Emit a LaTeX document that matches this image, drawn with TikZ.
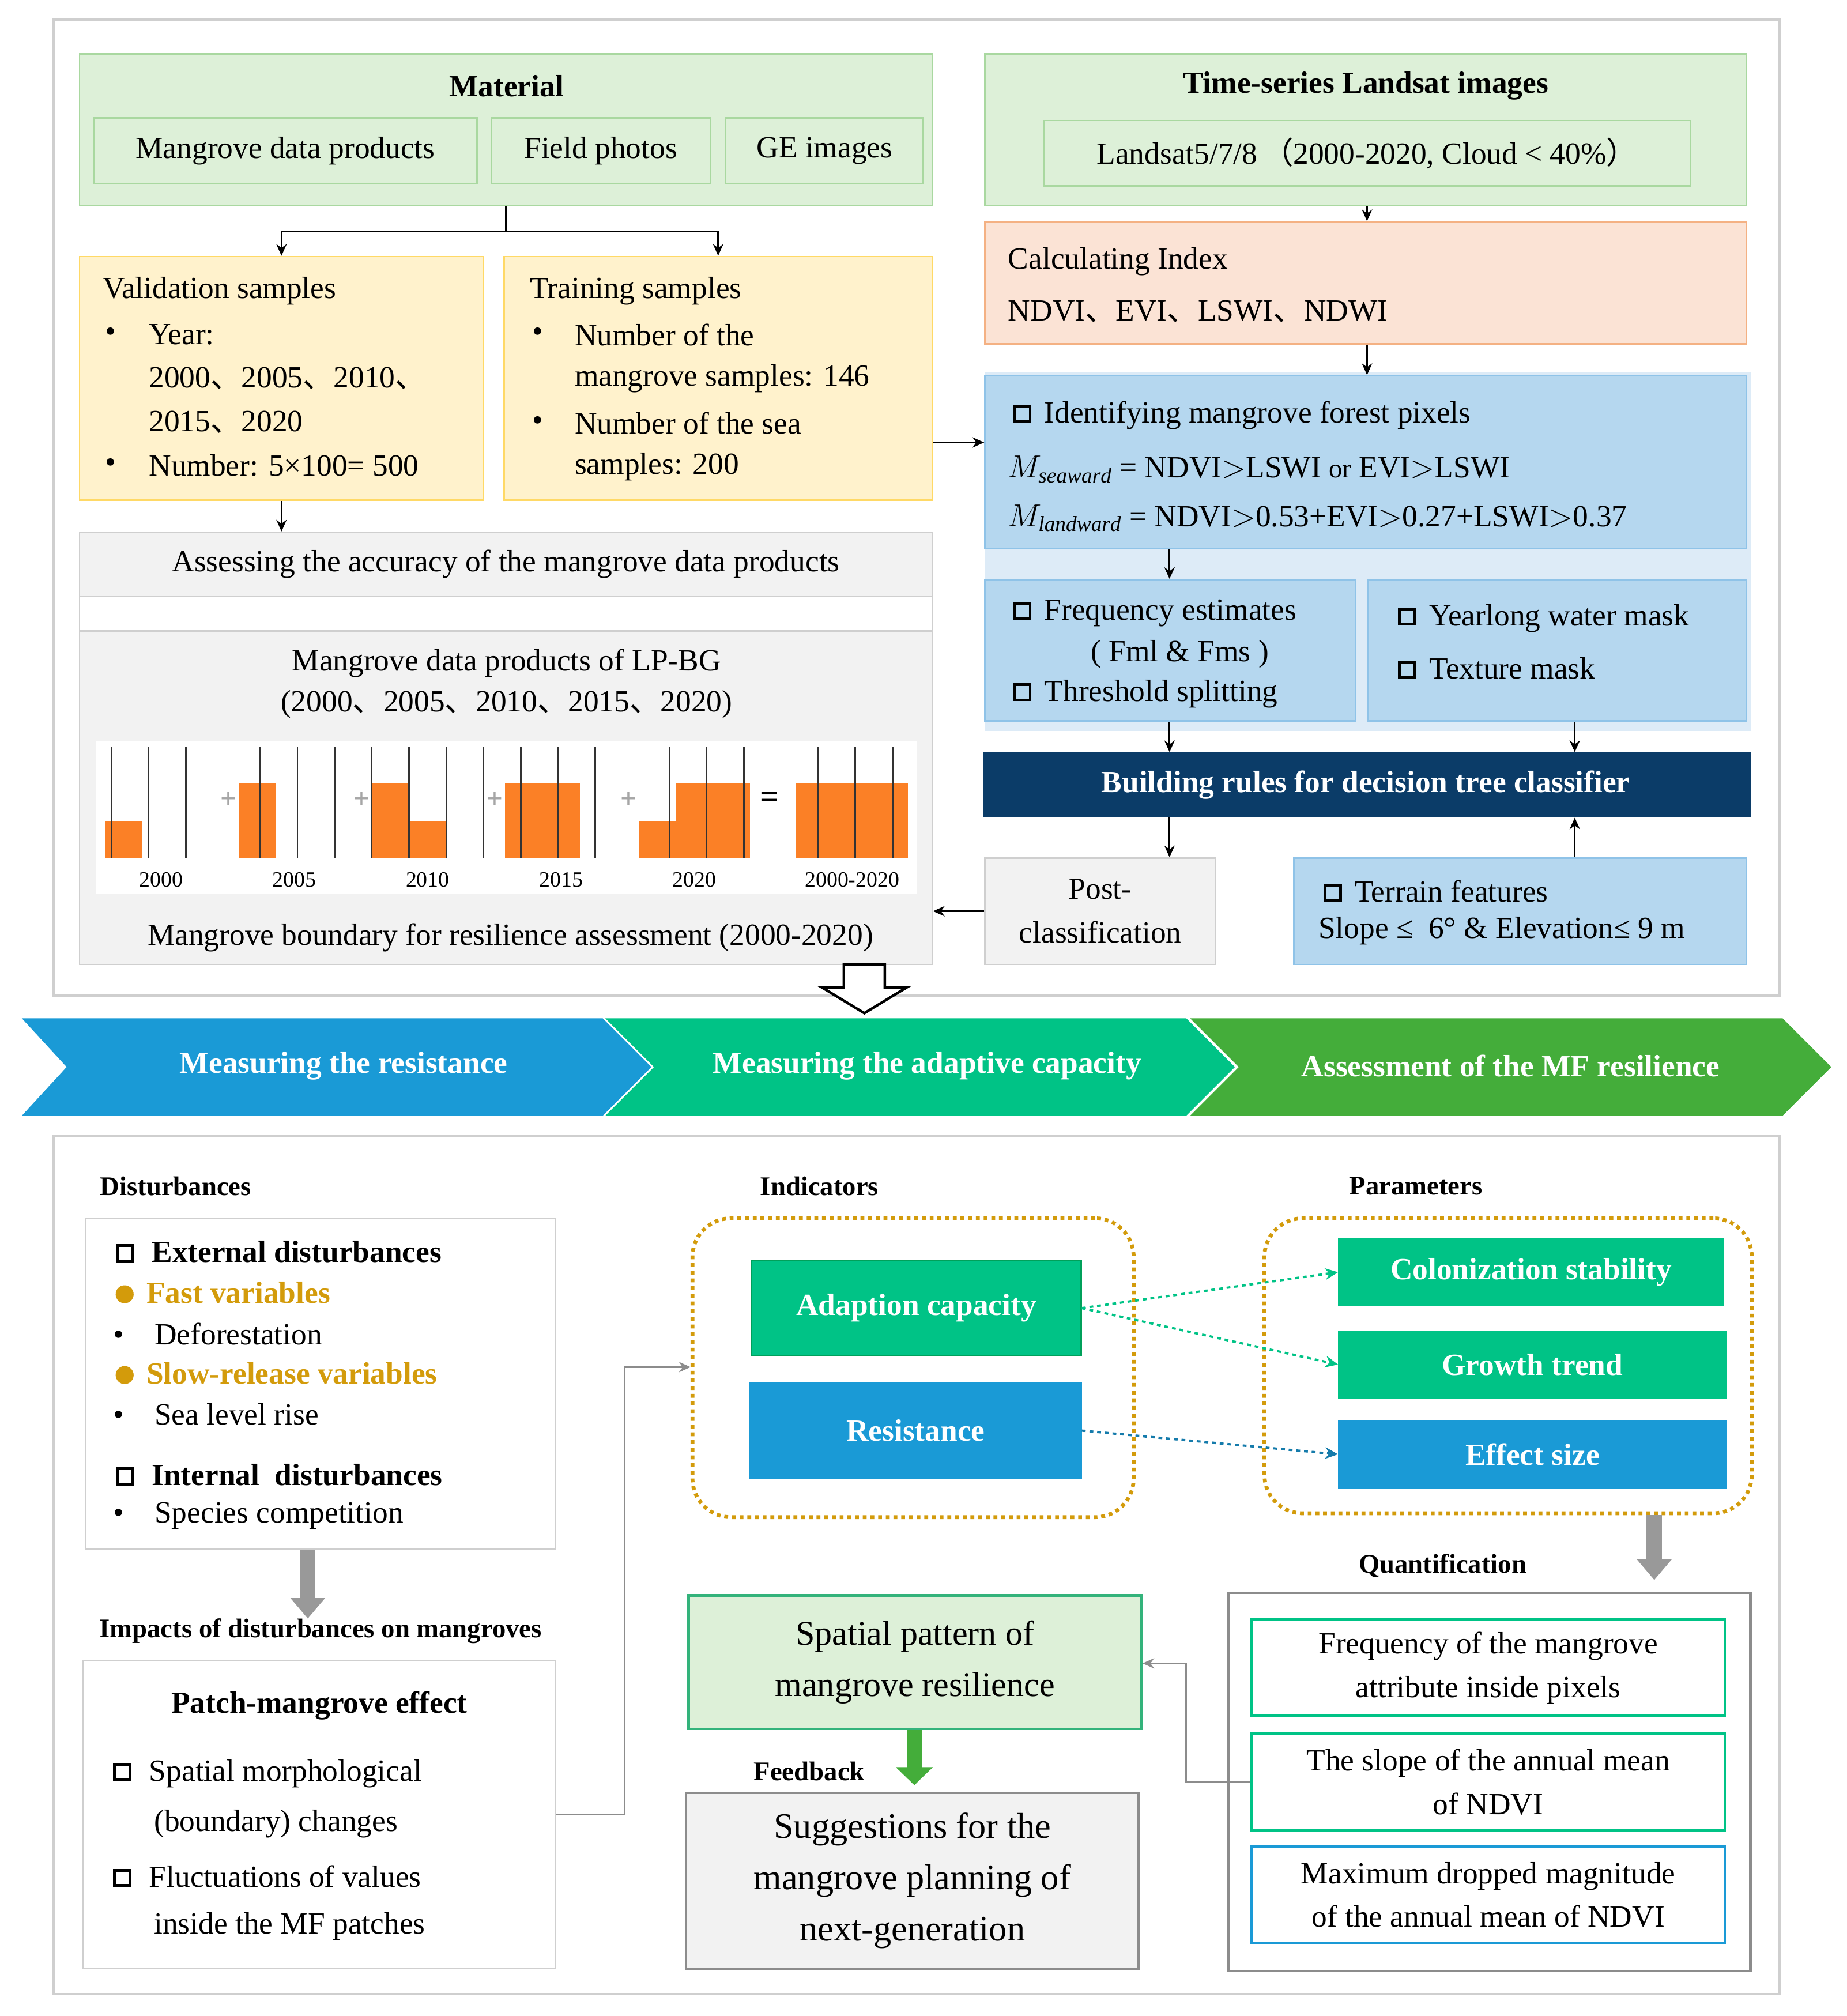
\documentclass[tikz,border=0pt]{standalone}
\usepackage{fontspec}
\setmainfont{Liberation Serif}
\newfontfamily\cjk{Noto Sans CJK SC}
\usetikzlibrary{positioning,fit,arrows.meta}
\definecolor{lgreen}{HTML}{DDF0D8}
\definecolor{lgreenb}{HTML}{A9D8A0}
\definecolor{lyellow}{HTML}{FFF2CC}
\definecolor{lyellowb}{HTML}{FFD966}
\definecolor{lpeach}{HTML}{FBE3D5}
\definecolor{lpeachb}{HTML}{F4B183}
\definecolor{lblue}{HTML}{DDEBF7}
\definecolor{mblue}{HTML}{B5D7EF}
\definecolor{mblueb}{HTML}{8FC3E8}
\definecolor{navy}{HTML}{0B3C68}
\definecolor{lgray}{HTML}{F2F2F2}
\definecolor{grayb}{HTML}{CFCFCF}
\definecolor{mango}{HTML}{FB8026}
\definecolor{cblue}{HTML}{1A9AD6}
\definecolor{cteal}{HTML}{00C386}
\definecolor{cgreen}{HTML}{44AD3A}
\definecolor{gold}{HTML}{D39B0B}
\definecolor{gbord}{HTML}{00A05A}
\newcommand\chk{\tikz[baseline=-1pt]\draw[line width=2.2pt] (0,0) rectangle (12pt,12pt);}
\newcommand\gdot{\tikz[baseline=-1pt]\fill[gold] (6pt,6pt) circle (7pt);}
\begin{document}
\begin{tikzpicture}[x=1pt,y=-1pt,
    font=\fontsize{24}{34}\selectfont,
    outframe/.style={draw=grayb, line width=2pt},
    box/.style={inner sep=0pt, line width=1.2pt},
    gbox/.style={box, fill=lgreen, draw=lgreenb},
    ybox/.style={box, fill=lyellow, draw=lyellowb},
    bbox/.style={box, fill=mblue, draw=mblueb},
    gybox/.style={box, fill=lgray, draw=grayb},
    txt/.style={anchor=west, inner sep=0pt},
    ctxt/.style={align=center, inner sep=0pt},
    hd/.style={inner sep=0pt, font=\fontsize{24}{30}\selectfont\bfseries},
    arr/.style={-{Stealth[length=9pt,width=8pt]}, line width=1.5pt},
    garr/.style={-{Triangle[length=16pt,width=26pt]}, line width=12pt, draw=black!40},
    conn/.style={-{Stealth[length=9pt,width=8pt]}, line width=1.5pt, draw=black!45},
    dasharr/.style={dashed, line width=1.8pt, -{Stealth[length=10pt,width=9pt]}},
    pill/.style={box, text=white, font=\fontsize{24}{30}\selectfont\bfseries},
    qbox/.style={box, fill=white, line width=2pt, align=center}
  ]
\useasboundingbox (0,0) rectangle (1440,1572);
% top frame
\draw[outframe] (42,15) rectangle (1388,776);
\node[gbox, fit={(62,42) (727,160)}] (material) {};
\node[hd] (mattitle) at (395,67) {Material};
\node[gbox, fit={(73,92) (372,143)}, label={[inner sep=0pt]center:Mangrove data products}] (mdp) {};
\node[gbox, fit={(383,92) (554,143)}, label={[inner sep=0pt]center:Field photos}] (photos) {};
\node[gbox, fit={(566,92) (720,143)}, label={[inner sep=0pt]center:GE images}] (ge) {};
\node[gbox, fit={(768,42) (1362,160)}] (landsat) {};
\node[hd] (lstitle) at (1065,67) {Time-series Landsat images};
\node[gbox, fit={(814,94) (1318,145)}, label={[inner sep=0pt]center:Landsat5/7/8\,{\cjk （}2000-2020, Cloud < 40\%{\cjk ）}}] (lsimg) {};
% samples
\node[ybox, fit={(62,200) (377,390)}] (valid) {};
\node[txt] (v1) at (80,227) {Validation samples};
\node[txt] (v2) at (82,261) {\textbullet};
\node[txt] (v3) at (116,261) {Year:};
\node[txt] (v4) at (116,295) {2000{\cjk 、}2005{\cjk 、}2010{\cjk 、}};
\node[txt] (v5) at (116,329) {2015{\cjk 、}2020};
\node[txt] (v6) at (82,363) {\textbullet};
\node[txt] (v7) at (116,363) {Number: 5×100= 500};
\node[ybox, fit={(393,200) (727,390)}] (train) {};
\node[txt] (t1) at (413,227) {Training samples};
\node[txt] (t2) at (415,261) {\textbullet};
\node[txt] (t3) at (448,261) {Number of the};
\node[txt] (t4) at (448,295) {mangrove samples: 146};
\node[txt] (t5) at (415,330) {\textbullet};
\node[txt] (t6) at (448,330) {Number of the sea};
\node[txt] (t7) at (448,364) {samples: 200};
\draw[arr] (material.south) -- ++(0,20) coordinate (split) -| (valid.north);
\draw[arr] (split) -| (train.north);
% index and rules
\node[box, fill=lpeach, draw=lpeachb, fit={(768,173) (1362,268)}] (calc) {};
\node[txt] (c1) at (786,204) {Calculating Index};
\node[txt] (c2) at (786,243) {NDVI{\cjk 、}EVI{\cjk 、}LSWI{\cjk 、}NDWI};
\draw[arr] (lsimg.south |- landsat.south) -- (calc.north -| lsimg.south);
\node[box, fill=lblue, fit={(768,290) (1365,570)}] (rulearea) {};
\node[bbox, fit={(768,293) (1362,428)}] (ident) {};
\draw[arr] (calc.south -| lsimg.south) -- (ident.north -| lsimg.south);
\node[txt] (i1) at (790,324) {\chk\hspace{10pt}Identifying mangrove forest pixels};
\node[txt] (i2) at (786,366) {$M_{\mathit{seaward}}$ = NDVI$>$LSWI {\fontsize{21}{26}\selectfont or} EVI$>$LSWI};
\node[txt] (i3) at (786,404) {$M_{\mathit{landward}}$ = NDVI$>$0.53+EVI$>$0.27+LSWI$>$0.37};
\coordinate (tr) at ([yshift=-50pt]train.east);
\draw[arr] (tr) -- (tr -| ident.west);
\node[bbox, fit={(768,452) (1057,562)}] (freq) {};
\node[txt] (f1) at (790,478) {\chk\hspace{10pt}Frequency estimates};
\node[ctxt] (f2) at (920,510) {( Fml \& Fms )};
\node[txt] (f3) at (790,541) {\chk\hspace{10pt}Threshold splitting};
\node[bbox, fit={(1067,452) (1362,562)}] (mask) {};
\node[txt] (m1) at (1090,482) {\chk\hspace{10pt}Yearlong water mask};
\node[txt] (m2) at (1090,521) {\chk\hspace{10pt}Texture mask};
\node[box, fill=navy, draw=navy, fit={(767,587) (1365,637)}] (rules) {};
\node[hd, text=white] (rtxt) at (1065,612) {Building rules for decision tree classifier};
\draw[arr] (ident.south -| 912,0) -- (freq.north -| 912,0);
\draw[arr] (freq.south -| 912,0) -- (rules.north -| 912,0);
\draw[arr] (mask.south -| 1228,0) -- (rules.north -| 1228,0);
\node[gybox, fit={(768,669) (948,752)}] (post) {};
\node[ctxt] (ptxt) at (post.center) {Post-\\classification};
\node[bbox, fit={(1009,669) (1362,752)}] (terrain) {};
\node[txt] (te1) at (1032,695) {\chk\hspace{10pt}Terrain features};
\node[txt] (te2) at (1028,726) {Slope ≤\ \ 6° \& Elevation≤ 9 m};
\draw[arr] (rules.south -| 912,0) -- (post.north -| 912,0);
\draw[arr] (terrain.north -| 1228,0) -- (rules.south -| 1228,0);
% products
\node[gybox, fit={(62,415) (727,465)}, label={[inner sep=0pt]center:Assessing the accuracy of the mangrove data products}] (assess) {};
\draw[arr] (valid.south) -- (assess.north -| valid.south);
\node[box, fill=white, draw=grayb, fit={(62,465) (727,492)}] (gap) {};
\node[gybox, fit={(62,492) (727,752)}] (prod) {};
\draw[arr] (post.west) -- (post.west -| prod.east);
\node[ctxt] (p1) at (395,517) {Mangrove data products of LP-BG};
\node[ctxt] (p2) at (395,549) {(2000{\cjk 、}2005{\cjk 、}2010{\cjk 、}2015{\cjk 、}2020)};
\fill[white] (75,578) rectangle (715,697);
\foreach \gx/\yr/\cells in {82/2000/{1/3}, 186/2005/{1/2,1/3}, 290/2010/{1/2,1/3,2/3},
    394/2015/{1/2,2/2,1/3,2/3}, 498/2020/{2/2,3/2,1/3,2/3,3/3},
    621/2000-2020/{1/2,2/2,3/2,1/3,2/3,3/3}} {
  \foreach \c/\r in \cells
    \fill[mango] ({\gx+(\c-1)*29},{582+(\r-1)*29}) rectangle ++(29,29);
  \draw[line width=1.2pt, black!80] (\gx,582) grid[step=29] ++(87,87);
  \node[inner sep=0pt, font=\fontsize{17}{20}\selectfont] at ({\gx+43.5},686) {\yr};
}
\foreach \px in {178,282,386,490}
  \node[inner sep=0pt, text=black!35, font=\fontsize{22}{22}\selectfont\bfseries] at (\px,624) {+};
\node[inner sep=0pt, font=\fontsize{26}{26}\selectfont\bfseries] (eq) at (600,624) {=};
\node[ctxt] (p3) at (398,731) {Mangrove boundary for resilience assessment (2000-2020)};
\draw[line width=2pt, fill=white] (658,752) -- (690,752) -- (690,770) -- (707,770) -- (674,790)
  -- (641,770) -- (658,770) -- cycle;
% banner
\fill[cblue] (17,794) -- (470,794) -- (508,832) -- (470,870) -- (17,870) -- (52,832) -- cycle;
\fill[cteal] (472,794) -- (925,794) -- (963,832) -- (925,870) -- (472,870) -- (510,832) -- cycle;
\fill[cgreen] (928,794) -- (1390,794) -- (1428,832) -- (1390,870) -- (928,870) -- (966,832) -- cycle;
\node[hd, text=white] (b1) at (268,831) {Measuring the resistance};
\node[hd, text=white] (b2) at (723,831) {Measuring the adaptive capacity};
\node[hd, text=white] (b3) at (1178,831) {Assessment of the MF resilience};
% bottom frame
\draw[outframe] (42,886) rectangle (1388,1555);
\node[hd, font=\fontsize{21}{26}\selectfont\bfseries] (dist) at (137,925) {Disturbances};
\node[box, draw=grayb, fill=white, fit={(67,950) (433,1208)}] (distbox) {};
\node[txt] (d1) at (90,976) {\chk\hspace{14pt}\bfseries External disturbances};
\node[txt] (d2) at (90,1008) {\gdot\hspace{10pt}{\color{gold}\bfseries Fast variables}};
\node[txt] (d3) at (88,1040) {\textbullet\hspace{24pt}Deforestation};
\node[txt] (d4) at (90,1071) {\gdot\hspace{10pt}{\color{gold}\bfseries Slow-release variables}};
\node[txt] (d5) at (88,1103) {\textbullet\hspace{24pt}Sea level rise};
\node[txt] (d6) at (90,1150) {\chk\hspace{14pt}\bfseries Internal\ \ disturbances};
\node[txt] (d7) at (88,1182) {\textbullet\hspace{24pt}Species competition};
\node[hd, font=\fontsize{21}{26}\selectfont\bfseries] (impact) at (250,1272) {Impacts of disturbances on mangroves};
\draw[garr] (distbox.south -| 240,0) -- (impact.north -| 240,0);
\node[box, draw=grayb, fill=white, fit={(65,1295) (433,1535)}] (patch) {};
\node[hd] (pm) at (249,1330) {Patch-mangrove effect};
\node[txt] (pa1) at (88,1383) {\chk\hspace{14pt}Spatial morphological};
\node[txt] (pa2) at (120,1422) {(boundary) changes};
\node[txt] (pa3) at (88,1463) {\chk\hspace{14pt}Fluctuations of values};
\node[txt] (pa4) at (120,1502) {inside the MF patches};
% indicators and parameters
\node[hd, font=\fontsize{21}{26}\selectfont\bfseries] (indt) at (639,925) {Indicators};
\node[box, draw=gold, dashed, line width=3pt, rounded corners=30pt, fit={(540,950) (884,1183)}] (indic) {};
\node[pill, fill=cteal, draw=gbord, fit={(586,983) (843,1057)}] (adapt) {};
\node[hd, text=white] at (adapt.center) {Adaption capacity};
\node[pill, fill=cblue, draw=cblue, fit={(585,1078) (843,1153)}] (resist) {};
\node[hd, text=white] at (resist.center) {Resistance};
\draw[conn] (patch.east |- 0,1415) -| (487,1066) -- (indic.west |- 0,1066);
\node[hd, font=\fontsize{21}{26}\selectfont\bfseries] (part) at (1104,925) {Parameters};
\node[box, draw=gold, dashed, line width=3pt, rounded corners=30pt, fit={(986,950) (1366,1180)}] (param) {};
\node[pill, fill=cteal, draw=cteal, fit={(1044,966) (1344,1018)}] (colon) {};
\node[hd, text=white] at (colon.center) {Colonization stability};
\node[pill, fill=cteal, draw=cteal, fit={(1044,1038) (1346,1090)}] (growth) {};
\node[hd, text=white] at (growth.center) {Growth trend};
\node[pill, fill=cblue, draw=cblue, fit={(1044,1108) (1346,1160)}] (effect) {};
\node[hd, text=white] at (effect.center) {Effect size};
\draw[dasharr, draw=cteal] (adapt.east) -- (colon.west);
\draw[dasharr, draw=cteal] (adapt.east) -- (growth.west);
\draw[dasharr, draw=cblue!80!black] (resist.east) -- (effect.west);
% quantification
\node[hd, font=\fontsize{21}{26}\selectfont\bfseries] (quant) at (1125,1221) {Quantification};
\draw[garr] (param.south -| 1290,0) -- (1290,1232);
\node[box, draw=black!45, line width=2pt, fit={(958,1242) (1365,1537)}] (quantbox) {};
\node[qbox, draw=cteal, fit={(976,1263) (1345,1338)}] (q1) {};
\node[ctxt] at (q1.center) {Frequency of the mangrove\\attribute inside pixels};
\node[qbox, draw=cteal, fit={(976,1352) (1345,1427)}] (q2) {};
\node[ctxt] at (q2.center) {The slope of the annual mean\\of NDVI};
\node[qbox, draw=cblue, fit={(976,1440) (1345,1515)}] (q3) {};
\node[ctxt] at (q3.center) {Maximum dropped magnitude\\of the annual mean of NDVI};
\node[box, fill=lgreen, draw=gbord!80, line width=2pt, fit={(537,1244) (890,1348)}] (spat) {};
\node[ctxt, font=\fontsize{27}{40}\selectfont] at (spat.center) {Spatial pattern of\\mangrove resilience};
\draw[conn] (q2.west) -| (925,1297) -- (spat.east |- 0,1297);
\node[hd, font=\fontsize{21}{26}\selectfont\bfseries] (feed) at (631,1381) {Feedback};
\node[box, fill=lgray, draw=black!45, line width=2pt, fit={(535,1398) (888,1535)}] (sugg) {};
\node[ctxt, font=\fontsize{28}{40}\selectfont] at (sugg.center) {Suggestions for the\\mangrove planning of\\next-generation};
\draw[garr, draw=cgreen, -{Triangle[length=14pt,width=28pt]}] (spat.south -| 713,0) -- (713,1392);
\end{tikzpicture}
\end{document}
